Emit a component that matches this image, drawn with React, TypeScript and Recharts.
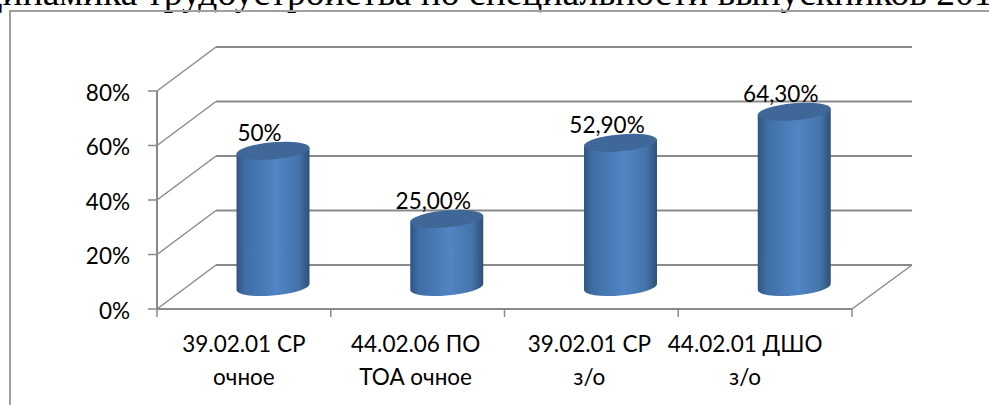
import React from "react";
import {
  BarChart,
  Bar,
  XAxis,
  YAxis,
  CartesianGrid,
  LabelList,
} from "recharts";

const TITLE = "Динамика трудоустройства по специальности выпускников 201";

const CATEGORY_LINES = [
  ["39.02.01 СР", "очное"],
  ["44.02.06 ПО", "ТОА очное"],
  ["39.02.01 СР", "з/о"],
  ["44.02.01 ДШО", "з/о"],
];
const CATEGORIES = ["39.02.01 СР очное", "44.02.06 ПО ТОА очное", "39.02.01 СР з/о", "44.02.01 ДШО з/о"];
const VALUES = [50, 25, 52.9, 64.3];
const VALUE_LABELS = ["50%", "25,00%", "52,90%", "64,30%"];
const Y_TICKS = [0, 20, 40, 60, 80];

const rows = CATEGORIES.map((name, i) => ({ name, value: VALUES[i], label: VALUE_LABELS[i], lines: CATEGORY_LINES[i] }));

// плоскость осей и смещение "глубины" 3D
const PLOT = { left: 157, top: 91, right: 852, bottom: 309 };
const DEPTH_X = 59;
const DEPTH_Y = 44;
const BAND = (PLOT.right - PLOT.left) / CATEGORIES.length;
const AXIS_GRAY = "#8a8a8a";
const FONT = "Lato, 'Open Sans', sans-serif";
const FONT_SIZE = 22.5;
// подписи в исходнике не строго по центру
const TICK_SHIFT = [0, -2, -2, -20];

function GridLine(props: any) {
  const { x1, x2, y1 } = props;
  const isFloor = Math.abs(y1 - PLOT.bottom) < 1;
  return (
    <g stroke={AXIS_GRAY} fill="none">
      <line x1={x1 + DEPTH_X} x2={x2 + DEPTH_X + 1} y1={y1 - DEPTH_Y} y2={y1 - DEPTH_Y} strokeWidth={2} />
      <line x1={x1} x2={x1 + DEPTH_X} y1={y1} y2={y1 - DEPTH_Y} strokeWidth={1.5} />
      {isFloor && <line x1={x2} x2={x2 + DEPTH_X + 1} y1={y1} y2={y1 - DEPTH_Y} strokeWidth={1.5} />}
    </g>
  );
}

function Cylinder(props: any) {
  const { x, y, width, height } = props;
  const left = x + DEPTH_X / 2;
  const right = left + width;
  const top = y - DEPTH_Y / 2;
  const bottom = y + height - DEPTH_Y / 2;
  const tilt = 3;
  const rx = width / 2;
  const ry = 8.5;
  const side = `M${left},${top + tilt} L${left},${bottom + tilt} A${rx},${ry} -5 0 0 ${right},${bottom - tilt} L${right},${top - tilt} Z`;
  return (
    <g>
      <path d={side} fill="url(#cylinderSide)" />
      <ellipse cx={(left + right) / 2} cy={top} rx={rx + 0.2} ry={ry} transform={`rotate(-5 ${(left + right) / 2} ${top})`} fill="#3f6797" />
    </g>
  );
}

function ValueLabel(props: any) {
  const { x, y, width, index } = props;
  return (
    <text x={x + width / 2 + 16} y={y - DEPTH_Y / 2 - 18} dy="0.35em" textAnchor="middle" fontFamily={FONT} fontSize={FONT_SIZE} fill="#000">
      {VALUE_LABELS[index]}
    </text>
  );
}

function CategoryTick(props: any) {
  const { x, index } = props;
  const lines = CATEGORY_LINES[index];
  const isLast = index === CATEGORIES.length - 1;
  const cx = x + TICK_SHIFT[index];
  return (
    <g>
      <line x1={x - BAND / 2} x2={x - BAND / 2} y1={PLOT.bottom} y2={PLOT.bottom + 8} stroke={AXIS_GRAY} strokeWidth={1.5} />
      {isLast && <line x1={x + BAND / 2} x2={x + BAND / 2} y1={PLOT.bottom} y2={PLOT.bottom + 8} stroke={AXIS_GRAY} strokeWidth={1.5} />}
      <text textAnchor="middle" fontFamily={FONT} fontSize={FONT_SIZE} fill="#000">
        <tspan x={cx} y={352}>{lines[0]}</tspan>
        <tspan x={cx} y={385}>{lines[1]}</tspan>
      </text>
    </g>
  );
}

export default function App() {
  return (
    <div style={{ position: "absolute", left: 0, top: 0, width: 989, height: 405, overflow: "hidden", background: "#fff" }}>
      <div
        style={{
          position: "absolute",
          left: -23,
          top: -29,
          whiteSpace: "nowrap",
          fontFamily: "'Liberation Serif', serif",
          fontSize: 37.5,
          color: "#000",
        }}
      >
        {TITLE}
      </div>
      <div style={{ position: "absolute", left: 9, top: 10, width: 985, height: 400, borderTop: "2px solid #a0a0a0", borderLeft: "2px solid #a0a0a0" }} />
      <div style={{ position: "absolute", left: 0, top: 0 }}>
        <BarChart
          width={989}
          height={405}
          data={rows}
          barSize={73}
          margin={{ top: PLOT.top, left: 0, right: 989 - PLOT.right, bottom: 0 }}
        >
          <defs>
            <linearGradient id="cylinderSide" x1="0" x2="1" y1="0" y2="0">
              <stop offset="0%" stopColor="#2f5582" />
              <stop offset="12%" stopColor="#3f6ea5" />
              <stop offset="55%" stopColor="#5285c5" />
              <stop offset="85%" stopColor="#4474aa" />
              <stop offset="100%" stopColor="#2f5078" />
            </linearGradient>
          </defs>
          <CartesianGrid vertical={false} horizontal={GridLine as any} />
          <XAxis
            dataKey="name"
            interval={0}
            tickLine={false}
            axisLine={{ stroke: AXIS_GRAY, strokeWidth: 2 }}
            tick={CategoryTick as any}
            height={405 - PLOT.bottom}
          />
          <YAxis
            type="number"
            domain={[0, 80]}
            ticks={Y_TICKS}
            width={PLOT.left}
            tickSize={9}
            tickMargin={18}
            tickLine={{ stroke: AXIS_GRAY, strokeWidth: 1.5 }}
            axisLine={{ stroke: AXIS_GRAY, strokeWidth: 2 }}
            tickFormatter={(v: number) => `${v}%`}
            tick={{ fontFamily: FONT, fontSize: FONT_SIZE, fill: "#000", dy: 2 }}
          />
          <Bar dataKey="value" shape={Cylinder as any} isAnimationActive={false}>
            <LabelList dataKey="label" content={ValueLabel as any} />
          </Bar>
        </BarChart>
      </div>
    </div>
  );
}
